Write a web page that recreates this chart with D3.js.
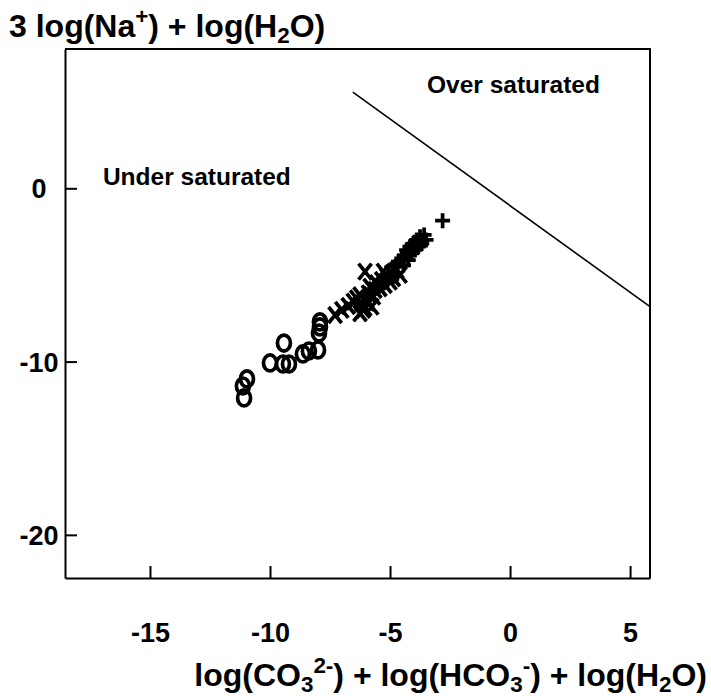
<!DOCTYPE html>
<html><head><meta charset="utf-8">
<script src="https://cdn.jsdelivr.net/npm/d3@7"></script>
<style>
body{margin:0;background:#fff}
text{font-family:"Liberation Sans",Arial,Helvetica,sans-serif;font-weight:bold;fill:#000}
</style>
</head><body><svg id="c" width="711" height="696"></svg>
<script>
// ---- data ----
const xTicks = [-15, -10, -5, 0, 5];
const yTicks = [0, -10, -20];
const xDomain = [-18.54, 5.83];
const yDomain = [-22.49, 8.04];

// series "o"
const oX = [-11.13, -10.96, -11.08, -10.0, -9.42, -9.46, -9.21, -8.63, -8.38, -8.0, -7.96, -7.92, -7.92];
const oY = [-11.41, -11.0, -12.1, -10.08, -8.93, -10.14, -10.14, -9.56, -9.39, -9.33, -8.35, -8.0, -7.71];

// series "x"
const xX = [-7.29, -7.01, -6.74, -6.53, -6.39, -6.25, -6.18, -6.11, -6.25, -5.97, -5.90, -6.04, -5.83, -5.76, -5.69, -5.63, -5.56, -5.42, -5.35, -5.21, -5.14, -5.0, -4.93, -4.86, -4.72, -4.58, -5.28, -6.05, -5.95];
const xY = [-7.31, -7.02, -6.79, -6.54, -6.35, -6.17, -6.64, -7.02, -7.21, -6.44, -6.06, -4.81, -5.68, -6.83, -6.25, -5.87, -5.48, -5.77, -5.29, -5.58, -5.1, -5.39, -4.9, -5.19, -4.71, -5.0, -4.81, -6.9, -6.6];

// series "+"
const pX = [-4.79, -4.65, -4.51, -4.44, -4.38, -4.31, -4.24, -4.17, -4.10, -4.03, -3.96, -3.89, -3.82, -3.75, -3.68, -3.58, -3.5, -2.81];
const pY = [-4.52, -4.23, -4.04, -4.43, -3.85, -3.56, -4.14, -3.37, -3.75, -3.19, -3.56, -2.98, -3.37, -2.79, -3.19, -2.69, -2.98, -1.87];

// saturation line
const satX = [-6.55, 5.83];
const satY = [5.55, -6.83];

// labels
const regionLabels = [
  {text: "Under saturated", x: -16.96, y: 0.19},
  {text: "Over saturated", x: -3.46, y: 5.5}
];

// ---- chart ----
const svg = d3.select("#c");
const L = 65, R = 650, T = 49, B = 578;
const x = d3.scaleLinear().domain(xDomain).range([L, R]);
const y = d3.scaleLinear().domain(yDomain).range([B, T]);

const fmt = d => String(d);
const gx = svg.append("g").attr("transform", `translate(0,${B})`)
  .call(d3.axisBottom(x).tickValues(xTicks).tickSizeInner(-12).tickSizeOuter(0).tickPadding(45).tickFormat(fmt));
gx.selectAll("text").attr("font-size", 27).attr("font-family", null);
const gy = svg.append("g").attr("transform", `translate(${L},0)`)
  .call(d3.axisLeft(y).tickValues(yTicks).tickSizeInner(-12).tickSizeOuter(0).tickFormat(fmt));
gy.selectAll("text").attr("font-size", 27).attr("font-family", null)
  .attr("text-anchor", "middle").attr("x", -26).attr("dy", "0.35em");
svg.selectAll(".domain, .tick line").attr("stroke", "#000").attr("stroke-width", 2);
svg.selectAll(".tick text").attr("fill", "#000");

// top & right frame
svg.append("path").attr("d", `M${L},${T}H${R}V${B}`).attr("fill", "none").attr("stroke", "#000").attr("stroke-width", 2);

// saturation line
svg.append("line")
  .attr("x1", x(satX[0])).attr("y1", y(satY[0]))
  .attr("x2", x(satX[1])).attr("y2", y(satY[1]))
  .attr("stroke", "#000").attr("stroke-width", 1.6);

// region labels
svg.selectAll(".rl").data(regionLabels).join("text")
  .attr("x", d => x(d.x)).attr("y", d => y(d.y))
  .attr("font-size", 24.5).text(d => d.text);

// markers
const mk = svg.append("g").attr("fill", "none").attr("stroke", "#000").attr("stroke-width", 3.7);
mk.selectAll(".o").data(oX.map((v, i) => [v, oY[i]])).join("ellipse")
  .attr("cx", d => x(d[0])).attr("cy", d => y(d[1])).attr("rx", 6.5).attr("ry", 8);
mk.selectAll(".x").data(xX.map((v, i) => [v, xY[i]])).join("path")
  .attr("d", d => { const cx = x(d[0]), cy = y(d[1]); return `M${cx-6.5},${cy-8}L${cx+6.5},${cy+8}M${cx+6.5},${cy-8}L${cx-6.5},${cy+8}`; });
mk.selectAll(".p").data(pX.map((v, i) => [v, pY[i]])).join("path")
  .attr("d", d => { const cx = x(d[0]), cy = y(d[1]); return `M${cx-7.5},${cy}H${cx+7.5}M${cx},${cy-7.5}V${cy+7.5}`; });

// titles with sub/superscripts
function rich(g, parts, fs) {
  const t = g.append("text").attr("font-size", fs);
  parts.forEach(p => {
    const s = t.append("tspan").text(p[0]);
    if (p[1] === "sub") s.attr("font-size", fs * 0.7).attr("dy", fs * 0.2);
    else if (p[1] === "sup") s.attr("font-size", fs * 0.7).attr("dy", -fs * 0.4);
    if (p[2] !== undefined) s.attr("dy", p[2]);
  });
  return t;
}
const F1 = 32, F2 = 32;
rich(svg, [["3 log(Na"], ["+", "sup"], [") + log(H", null, 0.4*F1], ["2", "sub"], ["O)", null, -0.2*F1]], F1)
  .attr("x", 9).attr("y", 37);
rich(svg, [["log(CO"], ["3", "sub"], ["2-", "sup", -0.6*F2], [") + log(HCO", null, 0.4*F2], ["3", "sub"], ["-", "sup", -0.6*F2], [") + log(H", null, 0.4*F2], ["2", "sub"], ["O)", null, -0.2*F2]], F2)
  .attr("text-anchor", "end").attr("x", 707).attr("y", 686);
</script>
</body></html>
